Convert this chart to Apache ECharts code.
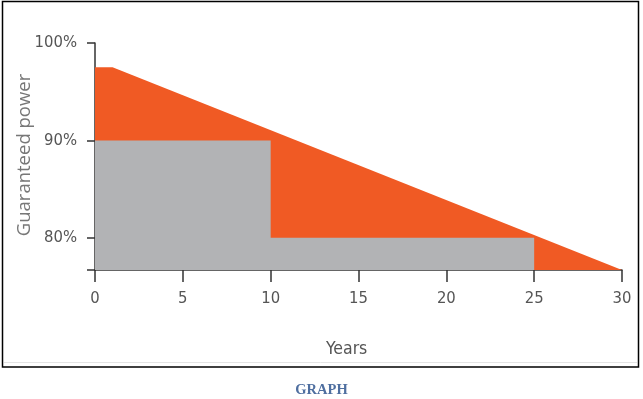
<!DOCTYPE html>
<html>
<head>
<meta charset="utf-8">
<script src="https://cdn.jsdelivr.net/npm/echarts@6/dist/echarts.min.js"></script>
<style>
  html, body { margin: 0; padding: 0; background: #fff; }
  #chart { width: 643px; height: 399px; }
</style>
</head>
<body>
<div id="chart"></div>
<script>
// guaranteed power, upper (linear) warranty
const linearYears = [0, 1, 30];
const linearPower = [97.5, 97.5, 76.7];

// step warranty
const stepYears = [0, 10, 10, 25];
const stepPower = [90, 90, 80, 80];

const xTicks = [0, 5, 10, 15, 20, 25, 30];
const yLabels = [80, 90, 100];
const yMin = 76.7;

const chart = echarts.init(document.getElementById('chart'));

const axisColor = '#333';
const labelFont = 'DejaVu Sans Condensed';

chart.setOption({
    animation: false,
    grid: { left: 95, right: 21, top: 43, bottom: 129, outerBoundsMode: 'none', containLabel: false },
    xAxis: {
        type: 'value',
        min: xTicks[0],
        max: xTicks[xTicks.length - 1],
        interval: 5,
        splitLine: { show: false },
        axisLine: { lineStyle: { color: axisColor, width: 1.5 } },
        axisTick: { length: 12, lineStyle: { color: axisColor, width: 1.5 } },
        axisLabel: { margin: 20, color: '#555', fontFamily: labelFont, fontSize: 16.5 }
    },
    yAxis: {
        type: 'value',
        min: yMin,
        max: 100,
        splitLine: { show: false },
        axisLine: { show: true, lineStyle: { color: axisColor, width: 1.5 } },
        axisTick: {
            show: true, length: 8,
            customValues: [yMin].concat(yLabels),
            lineStyle: { color: axisColor, width: 1.5 }
        },
        axisLabel: {
            margin: 18, color: '#555', fontFamily: labelFont, fontSize: 16.5,
            customValues: yLabels,
            formatter: v => v + '%'
        }
    },
    series: [
        {
            type: 'line',
            data: linearYears.map((x, i) => [x, linearPower[i]]),
            symbol: 'none',
            lineStyle: { width: 0 },
            areaStyle: { color: '#F05A24', opacity: 1, origin: 'start' },
            z: 1
        },
        {
            type: 'line',
            data: stepYears.map((x, i) => [x, stepPower[i]]),
            symbol: 'none',
            lineStyle: { width: 0 },
            areaStyle: { color: '#B2B3B5', opacity: 1, origin: 'start' },
            z: 2
        }
    ],
    graphic: [
        {
            type: 'rect',
            shape: { x: 2.5, y: 1.5, width: 636, height: 365.5 },
            style: { fill: 'none', stroke: '#000', lineWidth: 1.5 }
        },
        {
            type: 'line',
            shape: { x1: 4, y1: 362.5, x2: 637, y2: 362.5 },
            style: { stroke: '#e4e4e4', lineWidth: 1 }
        },
        {
            type: 'text',
            x: 25, y: 155,
            rotation: Math.PI / 2,
            style: {
                text: 'Guaranteed power', fill: '#777',
                font: '18.5px "Open Sans"', align: 'center', verticalAlign: 'middle'
            }
        },
        {
            type: 'text',
            left: 326, top: 340,
            style: { text: 'Years', fill: '#555', font: '17.5px "DejaVu Sans Condensed"' }
        },
        {
            type: 'text',
            left: 'center', top: 383,
            style: { text: 'GRAPH', fill: '#4F6FA0', font: 'bold 14.5px "Liberation Serif"' }
        }
    ]
});
</script>
</body>
</html>
